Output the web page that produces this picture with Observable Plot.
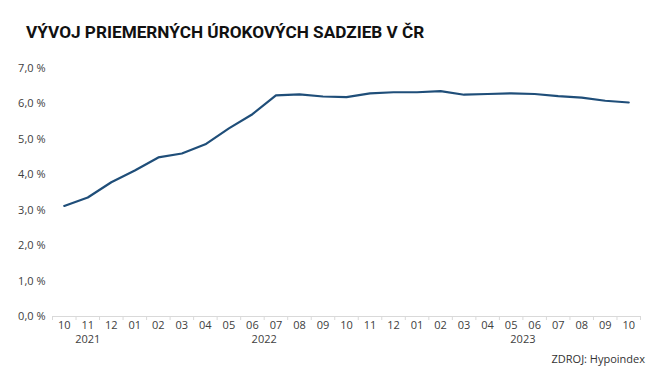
<!DOCTYPE html>
<html>
<head>
<meta charset="utf-8">
<script src="https://cdn.jsdelivr.net/npm/d3@7"></script>
<script src="https://cdn.jsdelivr.net/npm/@observablehq/plot@0.6"></script>
<style>
  html, body { margin: 0; padding: 0; background: #fff; }
  #wrap { position: relative; width: 658px; height: 386px; overflow: hidden; background: #fff; }
  #title { position: absolute; left: 26px; top: 22px; font-family: Roboto, sans-serif; font-weight: 700; font-size: 17.2px; line-height: 20px; color: #111; white-space: nowrap; }
  #chart { position: absolute; left: 0; top: 50px; }
  #caption { position: absolute; right: 13px; top: 351px; font-family: "Open Sans", sans-serif; font-size: 11px; color: #333; white-space: nowrap; }
</style>
</head>
<body>
<div id="wrap">
  <div id="title">VÝVOJ PRIEMERNÝCH ÚROKOVÝCH SADZIEB V ČR</div>
  <div id="chart"></div>
  <div id="caption">ZDROJ: Hypoindex</div>
</div>
<script>
const months = ["10","11","12","01","02","03","04","05","06","07","08","09","10","11","12","01","02","03","04","05","06","07","08","09","10"];
const monthYears = [2021,2021,2021,2022,2022,2022,2022,2022,2022,2022,2022,2022,2022,2022,2022,2023,2023,2023,2023,2023,2023,2023,2023,2023,2023];
const rates = [3.12,3.36,3.79,4.12,4.49,4.60,4.86,5.31,5.71,6.24,6.27,6.21,6.19,6.30,6.33,6.33,6.36,6.26,6.28,6.30,6.28,6.22,6.18,6.09,6.04];
const yTicks = [0,1,2,3,4,5,6,7];

const data = rates.map((r, i) => ({i, rate: r, month: months[i], year: monthYears[i]}));
const idx = d3.range(months.length);
const boundaries = d3.range(months.length + 1).map(i => i - 0.5);
const yearGroups = d3.groups(data, d => d.year).map(([y, arr]) => ({year: y, c: d3.mean(arr, d => d.i)}));
const yearLabel = new Map(yearGroups.map(g => [g.c, String(g.year)]));

const chart = Plot.plot({
  width: 658,
  height: 300,
  marginTop: 18,
  marginBottom: 34,
  marginLeft: 52,
  marginRight: 18,
  style: {fontFamily: "'Open Sans', sans-serif", fontSize: "11px", color: "#404040", background: "transparent"},
  x: {domain: [-0.5, months.length - 0.5], axis: null},
  y: {domain: [0, 7], axis: null},
  marks: [
    Plot.ruleY([0], {stroke: "#d9d9d9", strokeWidth: 1}),
    Plot.axisX(boundaries, {label: null, tickSize: 4, tickFormat: () => "", stroke: "#d9d9d9", strokeOpacity: 1}),
    Plot.axisX(idx, {label: null, tickSize: 0, tickPadding: 5, tickFormat: i => months[i]}),
    Plot.axisX(yearGroups.map(g => g.c), {label: null, tickSize: 0, tickPadding: 19, tickFormat: c => yearLabel.get(c)}),
    Plot.axisY(yTicks, {label: null, tickSize: 0, tickPadding: 7, tickFormat: d => d.toFixed(1).replace(".", ",") + " %"}),
    Plot.line(data, {x: "i", y: "rate", stroke: "#1f4e79", strokeWidth: 2.2})
  ]
});
document.getElementById("chart").appendChild(chart);
</script>
</body>
</html>
